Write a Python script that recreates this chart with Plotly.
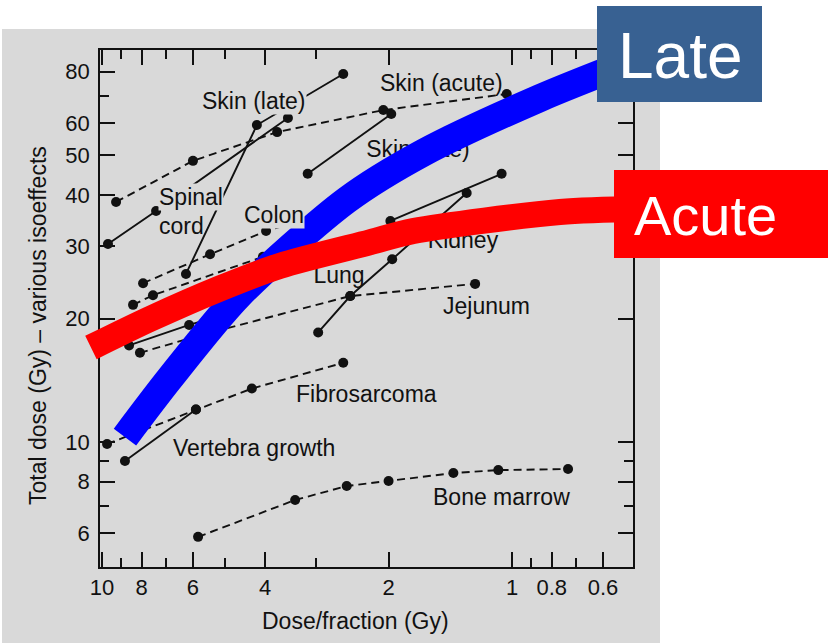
import plotly.graph_objects as go

# ---------------- data ----------------
skin_late_a_x = [6.24, 4.19, 2.58]
skin_late_a_y = [25.7, 59.3, 79.0]
skin_late_b_x = [3.15, 1.97]
skin_late_b_y = [45.1, 63.1]
skin_acute_x = [9.24, 6.00, 3.74, 2.06, 1.03]
skin_acute_y = [38.5, 48.5, 57.0, 64.5, 70.6]
spinal_cord_x = [9.67, 7.38, 3.52]
spinal_cord_y = [30.4, 36.6, 61.7]
colon_x = [7.94, 5.45, 3.98, 2.94]
colon_y = [24.4, 28.7, 32.7, 35.8]
gut_dashed_x = [8.40, 7.51, 4.05, 3.29]
gut_dashed_y = [21.6, 22.8, 28.3, 29.9]
kidney_x = [1.98, 1.06]
kidney_y = [34.6, 45.1]
lung_x = [2.97, 2.48, 1.96, 1.29]
lung_y = [18.5, 22.7, 27.9, 40.5]
jejunum_x = [8.08, 5.77, 2.48, 1.23]
jejunum_y = [16.5, 18.2, 22.7, 24.3]
other_solid_x = [8.59, 6.13, 5.15]
other_solid_y = [17.2, 19.3, 20.3]
fibrosarcoma_x = [9.72, 5.90, 4.31, 2.58]
fibrosarcoma_y = [9.89, 12.0, 13.5, 15.6]
vertebra_x = [8.79, 5.90]
vertebra_y = [8.99, 12.0]
bone_marrow_x = [5.83, 3.38, 2.53, 2.00, 1.39, 1.08, 0.73]
bone_marrow_y = [5.87, 7.22, 7.81, 8.03, 8.40, 8.54, 8.59]

# highlighted trend bands
late_x = [8.79, 6.83, 4.63, 2.53, 1.65, 0.855, 0.516]
late_y = [10.28, 14.3, 22.8, 38.9, 50.7, 69.0, 84.5]
acute_x = [10.64, 7.64, 5.15, 3.68, 2.22, 1.74, 0.764, 0.487]
acute_y = [17.0, 19.95, 23.7, 26.9, 30.7, 32.7, 36.4, 37.0]

x_tick_vals = [10, 8, 6, 4, 2, 1, 0.8, 0.6]
x_tick_text = ["10", "8", "6", "4", "2", "1", "0.8", "0.6"]
x_minor_vals = [9, 7, 5, 3, 0.9, 0.7]
y_tick_vals = [6, 8, 10, 20, 30, 40, 50, 60, 80]
y_tick_text = ["6", "8", "10", "20", "30", "40", "50", "60", "80"]
y_minor_vals = [7, 9, 70]

# ---------------- layout geometry (pixels) ----------------
W, H = 828, 643
PXD = 410.0          # pixels per decade
X10, Y10 = 102.0, 442.0   # pixel location of value 10 on each axis
PL, PR, PT, PB = 100, 633, 50, 567


def xl(px):
    return 1 - (px - X10) / PXD


def yl(py):
    return 1 + (Y10 - py) / PXD


FONT = "Liberation Sans, Arial, Helvetica, sans-serif"
INK = "#111111"

fig = go.Figure()

series = [
    (skin_late_a_x, skin_late_a_y, "solid"),
    (skin_late_b_x, skin_late_b_y, "solid"),
    (skin_acute_x, skin_acute_y, "dash"),
    (spinal_cord_x, spinal_cord_y, "solid"),
    (colon_x, colon_y, "dash"),
    (gut_dashed_x, gut_dashed_y, "dash"),
    (kidney_x, kidney_y, "solid"),
    (lung_x, lung_y, "solid"),
    (jejunum_x, jejunum_y, "dash"),
    (other_solid_x, other_solid_y, "solid"),
    (fibrosarcoma_x, fibrosarcoma_y, "dash"),
    (vertebra_x, vertebra_y, "solid"),
    (bone_marrow_x, bone_marrow_y, "dash"),
]
for sx, sy, dash in series:
    fig.add_trace(go.Scatter(
        x=sx, y=sy, mode="lines+markers", xaxis="x", yaxis="y",
        line=dict(color=INK, width=1.9, dash="8px,5px" if dash == "dash" else "solid"),
        marker=dict(color=INK, size=10), showlegend=False, hoverinfo="skip"))

# labels that lie under the coloured bands (drawn as text in the data layer)
under_labels = [("Skin (late)", 418, 150), ("Lung", 339, 276), ("Kidney", 463, 241)]
fig.add_trace(go.Scatter(
    x=[10 ** xl(p[1]) for p in under_labels],
    y=[10 ** yl(p[2] + 1) for p in under_labels],
    text=[p[0] for p in under_labels], mode="text", textposition="middle center",
    textfont=dict(family=FONT, size=23, color=INK), xaxis="x", yaxis="y",
    showlegend=False, hoverinfo="skip"))

# coloured trend bands on a full-page overlay axis pair
fig.add_trace(go.Scatter(x=late_x, y=late_y, mode="lines", xaxis="x2", yaxis="y2",
                         line=dict(color="#0000ff", width=28, shape="spline", smoothing=0.8),
                         showlegend=False, hoverinfo="skip"))
fig.add_trace(go.Scatter(x=acute_x, y=acute_y, mode="lines", xaxis="x2", yaxis="y2",
                         line=dict(color="#ff0000", width=26, shape="spline", smoothing=0.8),
                         showlegend=False, hoverinfo="skip"))

axis_common = dict(type="log", showgrid=False, zeroline=False, showline=True,
                   linecolor=INK, linewidth=1.8, mirror="ticks", ticks="inside",
                   ticklen=15, tickwidth=1.8, tickcolor=INK, automargin=False,
                   tickfont=dict(family=FONT, size=22, color=INK))

fig.update_layout(
    width=W, height=H, margin=dict(l=0, r=0, t=0, b=0, autoexpand=False),
    paper_bgcolor="white", plot_bgcolor="rgba(0,0,0,0)",
    xaxis=dict(**axis_common, domain=[PL / W, PR / W], range=[xl(PL), xl(PR)],
               tickmode="array", tickvals=x_tick_vals, ticktext=x_tick_text,
               minor=dict(tickmode="array", tickvals=x_minor_vals, ticklen=9,
                          tickwidth=1.8, tickcolor=INK, ticks="inside", showgrid=False),
               anchor="y", ticklabelstandoff=0),
    yaxis=dict(**axis_common, domain=[1 - PB / H, 1 - PT / H], range=[yl(PB), yl(PT)],
               tickmode="array", tickvals=y_tick_vals, ticktext=y_tick_text,
               minor=dict(tickmode="array", tickvals=y_minor_vals, ticklen=9,
                          tickwidth=1.8, tickcolor=INK, ticks="inside", showgrid=False),
               anchor="x", ticklabelstandoff=4),
    xaxis2=dict(type="log", domain=[0, 1], range=[xl(0), xl(W)], visible=False,
                anchor="y2", fixedrange=True, automargin=False),
    yaxis2=dict(type="log", domain=[0, 1], range=[yl(H), yl(0)], visible=False,
                anchor="x2", fixedrange=True, automargin=False),
)

shapes = [
    dict(type="rect", xref="paper", yref="paper", x0=2 / W, x1=660 / W,
         y0=0, y1=1 - 29 / H, fillcolor="#d9d9d9", line=dict(width=0), layer="below"),
    dict(type="rect", xref="paper", yref="paper", x0=597 / W, x1=762 / W,
         y0=1 - 102 / H, y1=1 - 6 / H, fillcolor="#386192", line=dict(width=0), layer="above"),
    dict(type="rect", xref="paper", yref="paper", x0=614 / W, x1=1.0,
         y0=1 - 258 / H, y1=1 - 170 / H, fillcolor="#ff0000", line=dict(width=0), layer="above"),
]
fig.update_layout(shapes=shapes)

annotations = []
# curve labels drawn on top (some mask the lines under them like in the original)
top_labels = [
    ("Skin (late)", 254, 100, "center", True),
    ("Skin (acute)", 441, 82, "center", False),
    ("Spinal", 158, 196, "left", True),
    ("cord", 158, 225, "left", False),
    ("Colon", 274, 214, "center", True),
    ("Jejunum", 486, 305, "center", False),
    ("Fibrosarcoma", 366, 393, "center", False),
    ("Vertebra growth", 254, 447, "center", False),
    ("Bone marrow", 501, 496, "center", False),
]
for txt, px, py, anc, mask in top_labels:
    annotations.append(dict(
        text=txt, xref="paper", yref="paper", x=px / W, y=1 - (py + 1) / H,
        xanchor=anc, yanchor="middle", showarrow=False,
        font=dict(family=FONT, size=23, color=INK),
        bgcolor="#d9d9d9" if mask else "rgba(0,0,0,0)", borderpad=0))

annotations += [
    dict(text="Dose/fraction (Gy)", xref="paper", yref="paper", x=355 / W, y=1 - 621 / H,
         xanchor="center", yanchor="middle", showarrow=False,
         font=dict(family=FONT, size=23, color=INK)),
    dict(text="Total dose (Gy) \u2013 various isoeffects", xref="paper", yref="paper",
         x=38 / W, y=1 - 326 / H, xanchor="center", yanchor="middle", textangle=-90,
         showarrow=False, font=dict(family=FONT, size=23, color=INK)),
    dict(text="Late", xref="paper", yref="paper", x=680 / W, y=1 - 56 / H,
         xanchor="center", yanchor="middle", showarrow=False,
         font=dict(family=FONT, size=64, color="white")),
    dict(text="Acute", xref="paper", yref="paper", x=705 / W, y=1 - 215 / H,
         xanchor="center", yanchor="middle", showarrow=False,
         font=dict(family=FONT, size=56, color="white")),
]
fig.update_layout(annotations=annotations)

fig.write_html("out.html")
